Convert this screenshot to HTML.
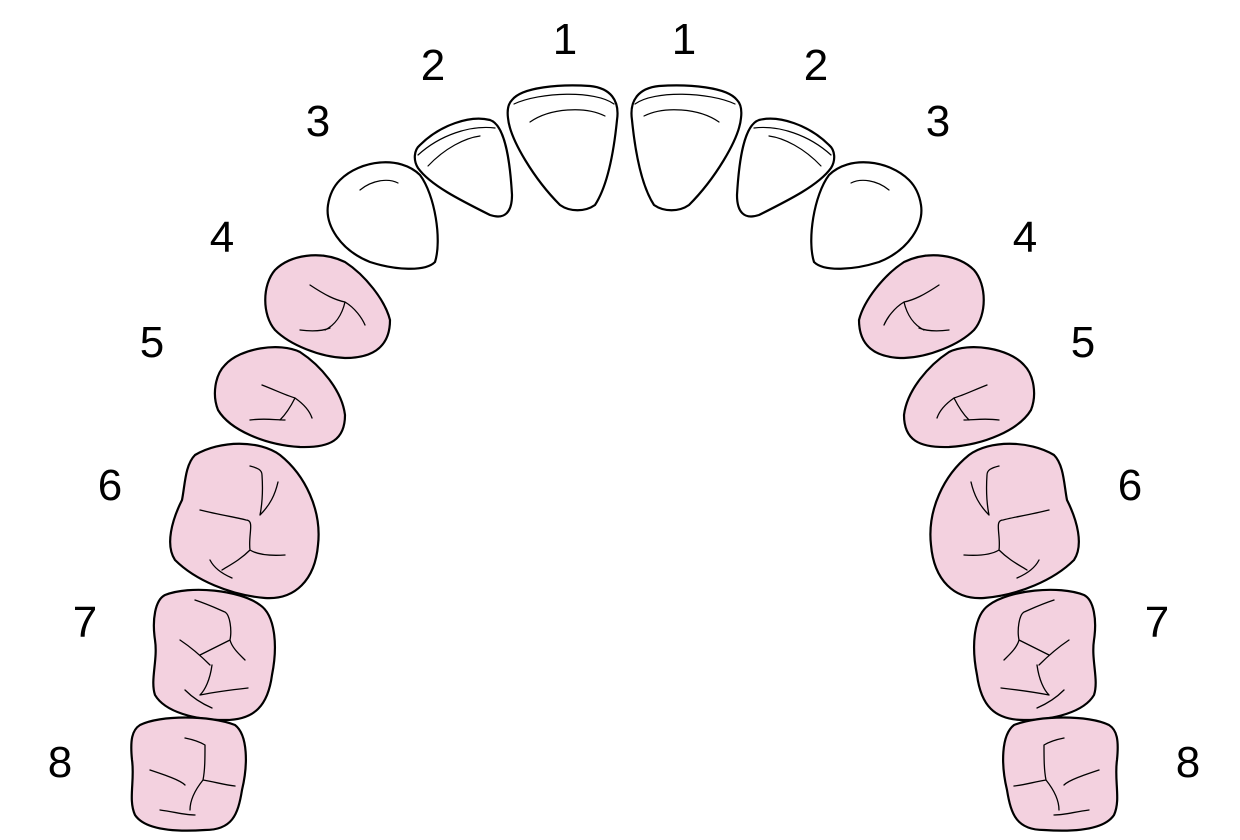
<!DOCTYPE html>
<html><head><style>html,body{margin:0;padding:0;background:#fff}svg{display:block}</style></head>
<body>
<svg width="1240" height="840" viewBox="0 0 1240 840" xmlns="http://www.w3.org/2000/svg">
<defs>
<g id="half" stroke="#000" stroke-linecap="round" stroke-linejoin="round">
  <g fill="#fff" stroke-width="2.2">
    <path d="M512,100 C522,87 560,84 590,86 C610,88 620,100 617,120 C614,150 608,185 595,205 C585,212 570,212 560,205 C535,180 510,140 508,118 C507,110 508,104 512,100 Z"/>
    <path d="M420,145 C440,125 470,115 490,120 C505,125 510,160 512,195 C512,212 505,220 490,215 C460,200 430,185 418,168 C413,160 414,150 420,145 Z"/>
    <path d="M340,180 C360,160 400,155 420,175 C435,195 442,240 435,262 C425,272 395,270 370,262 C340,250 325,225 328,205 C330,192 335,185 340,180 Z"/>
  </g>
  <g fill="none" stroke-width="1.2">
    <path d="M514,104 C540,92 595,90 614,104"/>
    <path d="M530,122 C550,108 585,106 605,116"/>
    <path d="M418,155 C440,135 470,125 495,128"/>
    <path d="M428,166 C445,148 465,138 480,136"/>
    <path d="M360,190 C372,180 388,178 398,183"/>
  </g>
  <g fill="#f3d1df" stroke-width="2.2">
    <path d="M275,270 C290,255 320,250 345,262 C365,275 385,300 390,320 C390,345 375,358 345,358 C320,357 290,345 275,330 C262,315 262,285 275,270 Z"/>
    <path d="M225,365 C240,348 280,342 300,352 C320,365 342,390 345,415 C345,440 330,448 300,447 C265,445 230,430 218,410 C212,395 215,375 225,365 Z"/>
    <path d="M195,455 C220,440 260,440 280,455 C305,475 322,510 318,545 C315,580 295,600 265,598 C230,595 195,580 175,560 C165,545 172,520 182,500 C185,485 185,465 195,455 Z"/>
    <path d="M165,595 C190,585 240,590 260,605 C275,615 278,645 272,675 C268,705 255,720 225,720 C195,720 165,712 155,695 C150,680 158,660 155,640 C152,620 155,600 165,595 Z"/>
    <path d="M140,725 C160,715 210,715 235,725 C248,735 248,765 242,790 C238,815 232,830 205,830 C175,832 145,830 135,815 C128,800 135,780 132,760 C130,740 132,730 140,725 Z"/>
  </g>
  <g fill="none" stroke-width="1.3">
    <path d="M310,285 C325,295 335,300 345,302 M345,302 C342,315 335,325 325,330 M345,302 C355,308 362,318 365,325 M300,330 C315,332 325,330 330,328"/>
    <path d="M262,385 C275,390 285,395 295,398 M295,398 C290,408 285,415 280,420 M295,398 C305,405 310,412 312,418 M250,420 C265,418 275,420 285,420"/>
    <path d="M250,466 C258,468 262,470 262,475 C263,490 262,505 260,515 C270,505 275,495 278,482 M200,510 C220,515 240,518 246,520 C255,520 248,535 250,550 C258,555 270,556 285,555 M250,550 C240,560 230,565 222,570 M210,560 C215,570 225,575 232,578"/>
    <path d="M195,600 C210,605 220,610 225,612 C230,615 232,630 230,640 C232,648 240,655 245,660 M230,640 C220,645 210,650 200,655 M180,640 C195,650 205,660 210,665 M212,665 C210,680 205,690 200,695 M200,695 C215,692 230,690 248,688 M185,690 C195,700 205,705 212,708"/>
    <path d="M185,738 C195,740 200,742 205,745 C205,758 205,770 203,780 M203,780 C215,782 225,785 235,786 M203,780 C195,790 190,800 190,810 M150,770 C165,775 180,780 185,785 M160,810 C175,812 185,815 195,815"/>
  </g>
</g>
</defs>
<use href="#half"/>
<use href="#half" transform="translate(1249,0) scale(-1,1)"/>
<g font-family="Liberation Sans, sans-serif" font-size="44" text-anchor="middle" fill="#000">
  <text x="565" y="54">1</text><text x="433" y="80">2</text><text x="318" y="136">3</text><text x="222" y="252">4</text>
  <text x="152" y="357">5</text><text x="110" y="500">6</text><text x="85" y="637">7</text><text x="60" y="777">8</text>
  <text x="684" y="54">1</text><text x="816" y="80">2</text><text x="938" y="136">3</text><text x="1025" y="252">4</text>
  <text x="1083" y="357">5</text><text x="1130" y="500">6</text><text x="1157" y="637">7</text><text x="1188" y="777">8</text>
</g>
</svg>
</body></html>
